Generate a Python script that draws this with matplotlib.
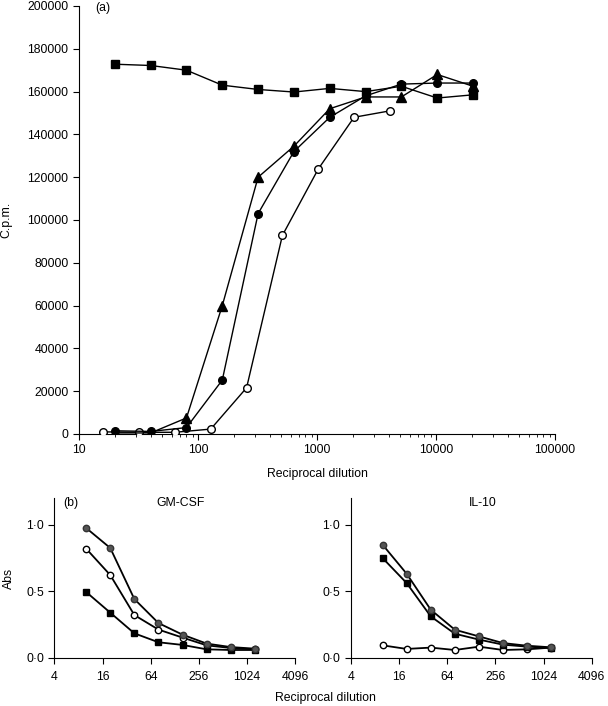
import matplotlib
matplotlib.use('Agg')
import matplotlib.pyplot as plt
from matplotlib.ticker import FixedLocator, NullFormatter, LogLocator

plt.rcParams['font.family'] = ['Liberation Sans', 'DejaVu Sans']
plt.rcParams['font.size'] = 8.8

# (a) radioactivity counts vs reciprocal dilution
dil_a = [20, 40, 80, 160, 320, 640, 1280, 2560, 5120, 10240, 20480]
squares_a = [172800, 172200, 170000, 163000, 161000, 159800, 161500, 160000, 162500, 157000, 158500]
circles_a = [1500, 1200, 3000, 25200, 103000, 132000, 148000, 158000, 163500, 164000, 164000]
triangles_a = [500, 500, 7500, 60000, 120000, 134500, 152000, 157500, 157500, 168000, 162500]
dil_open = [16, 32, 64, 128, 256, 512, 1024, 2048, 4096]
open_a = [1000, 800, 800, 2300, 21600, 92800, 123800, 148000, 151000]

# (b) ELISA absorbance
dil_b = [10, 20, 40, 80, 160, 320, 640, 1280]
gm_grey = [0.975, 0.825, 0.442, 0.262, 0.175, 0.108, 0.082, 0.07]
gm_open = [0.82, 0.622, 0.322, 0.213, 0.153, 0.095, 0.075, 0.065]
gm_square = [0.495, 0.34, 0.185, 0.118, 0.098, 0.065, 0.06, 0.06]
il_grey = [0.85, 0.632, 0.362, 0.212, 0.162, 0.112, 0.092, 0.08]
il_square = [0.75, 0.562, 0.312, 0.182, 0.138, 0.1, 0.085, 0.075]
il_open = [0.095, 0.068, 0.078, 0.06, 0.085, 0.06, 0.065, 0.078]
abs_ticks = [0.0, 0.5, 1.0]
abs_labels = ['0·0', '0·5', '1·0']
b_xticks = [4, 16, 64, 256, 1024, 4096]

fig = plt.figure(figsize=(6.08, 7.06), dpi=100)

def tidy(ax):
    ax.spines['top'].set_visible(False)
    ax.spines['right'].set_visible(False)
    ax.tick_params(direction='out', length=4, width=0.8, colors='black')
    ax.tick_params(which='minor', direction='out', length=2.5, width=0.6)

#%% panel (a)
ax = fig.add_axes([79 / 608, 1 - 434 / 706, 476 / 608, 428 / 706])
ax.plot(dil_a, squares_a, '-s', color='black', ms=5.5, lw=1, zorder=3)
ax.plot(dil_open, open_a, '-o', color='black', mfc='white', ms=5.5, lw=1, zorder=4)
ax.plot(dil_a, circles_a, '-o', color='black', ms=5.5, lw=1, zorder=5)
ax.plot(dil_a, triangles_a, '-^', color='black', ms=6.5, lw=1, zorder=6)
ax.set_xscale('log')
ax.set_xlim(10, 100000)
ax.set_ylim(0, 200000)
ax.set_yticks(range(0, 200001, 20000))
ax.set_yticklabels([str(v) for v in range(0, 200001, 20000)])
ax.set_xticks([10, 100, 1000, 10000, 100000])
ax.set_xticklabels(['10', '100', '1000', '10000', '100000'])
ax.xaxis.set_minor_locator(LogLocator(base=10, subs=range(2, 10)))
ax.xaxis.set_minor_formatter(NullFormatter())
ax.set_xlabel('Reciprocal dilution', labelpad=8)
ax.set_ylabel('C.p.m.')
ax.yaxis.set_label_coords(-67 / 476, 0.5)
ax.text(0.05, 0.995, '(a)', transform=ax.transAxes, va='center', ha='center')
tidy(ax)

#%% panel (b)
def panel_b(left, series, title, title_x):
    bx = fig.add_axes([left / 608, 1 - 658 / 706, 241 / 608, 160 / 706])
    for y, mfc, mk, z in series:
        bx.plot(dil_b, y, '-' + mk, color='black', mfc=mfc, mec='black' if mfc != '#555555' else '#333333',
                ms=4.6, lw=1.3, zorder=z)
    bx.set_xscale('log', base=2)
    bx.set_xlim(4, 4096)
    bx.set_ylim(0, 1.2)
    bx.xaxis.set_major_locator(FixedLocator(b_xticks))
    bx.set_xticklabels([str(t) for t in b_xticks])
    bx.xaxis.set_minor_locator(FixedLocator([]))
    bx.set_yticks(abs_ticks)
    bx.set_yticklabels(abs_labels)
    bx.text(title_x, 1.16, title, ha='center', va='center')
    tidy(bx)
    bx.tick_params(axis='x', pad=5)
    return bx

b1 = panel_b(54.3, [(gm_square, 'black', 's', 3), (gm_open, 'white', 'o', 4), (gm_grey, '#555555', 'o', 5)],
             'GM-CSF', 151)
b1.set_ylabel('Abs')
b1.yaxis.set_label_coords(-39 / 241, 0.5)
b1.text(6.4, 1.16, '(b)', ha='center', va='center')
b2 = panel_b(350.7, [(il_open, 'white', 'o', 3), (il_square, 'black', 's', 4), (il_grey, '#555555', 'o', 5)],
             'IL-10', 181)
fig.text(325 / 608, 1 - 698 / 706, 'Reciprocal dilution', ha='center', va='center')

plt.savefig('out.png', dpi=100)
